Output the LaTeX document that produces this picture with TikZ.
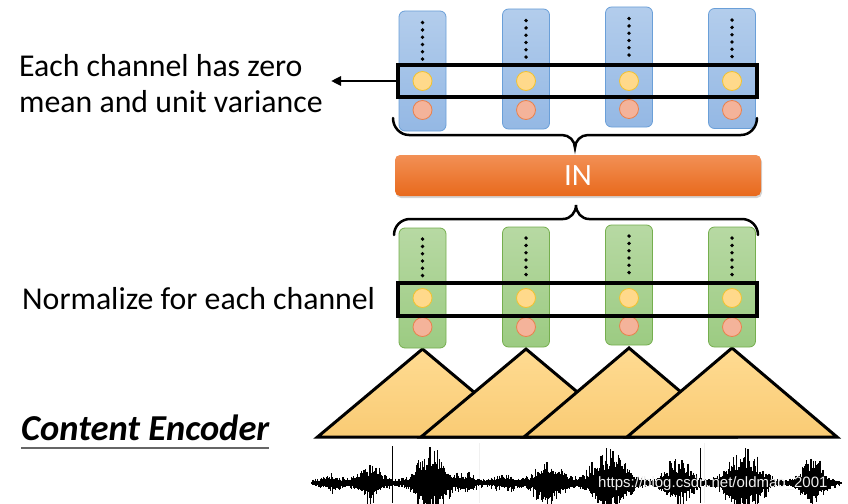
\documentclass[tikz,border=0pt]{standalone}
\usepackage{fontspec}
\setmainfont{Carlito}
\newfontfamily\wmfont{Liberation Sans}
\usetikzlibrary{shadows,arrows.meta}
\definecolor{bluetop}{HTML}{B3CDEC}
\definecolor{bluebot}{HTML}{94B8E4}
\definecolor{blueedge}{HTML}{6A9FD8}
\definecolor{greentop}{HTML}{B7D9A3}
\definecolor{greenbot}{HTML}{9CCB82}
\definecolor{greenedge}{HTML}{75AE4E}
\definecolor{yelfill}{HTML}{FFD98B}
\definecolor{yeledge}{HTML}{F2C230}
\definecolor{redfill}{HTML}{F4B39A}
\definecolor{rededge}{HTML}{E9814D}
\definecolor{intop}{HTML}{F29055}
\definecolor{inbot}{HTML}{E8691C}
\definecolor{tritop}{HTML}{FFDB92}
\definecolor{tribot}{HTML}{F9CB74}
\tikzset{
  bcol/.style={draw=blueedge, line width=0.8pt, rounded corners=6pt, top color=bluetop, bottom color=bluebot, minimum width=47pt, minimum height=120pt, inner sep=0pt},
  gcol/.style={draw=greenedge, line width=0.8pt, rounded corners=6pt, top color=greentop, bottom color=greenbot, minimum width=47pt, minimum height=120pt, inner sep=0pt},
  ycirc/.style={circle, draw=yeledge, fill=yelfill, line width=0.8pt, minimum size=19pt, inner sep=0pt},
  rcirc/.style={circle, draw=rededge, fill=redfill, line width=0.8pt, minimum size=19pt, inner sep=0pt},
  selbox/.style={draw=black, line width=3.5pt, minimum width=359pt, minimum height=32pt, inner sep=0pt},
  brace/.style={draw=black, line width=2.5pt, line cap=round},
  tri/.style={draw=black, line width=3pt, line join=miter, top color=tritop, bottom color=tribot},
  lbl/.style={anchor=base west, inner sep=0pt, font=\fontsize{31.8}{35}\selectfont},
  wave/.style={line width=1.25pt, black},
  gdot/.style={fill=black, circle, minimum size=3.8pt, inner sep=0pt},
  declare function={g(\x,\c,\w)=exp(-min(((\x-\c)/\w)*((\x-\c)/\w),30));}
}
\begin{document}
\begin{tikzpicture}[x=1pt,y=-1pt]
\useasboundingbox (0,0) rectangle (848,503);

% ---------- waveform ----------
\begin{scope}
\clip (0,0) rectangle (848,503);
\draw[gray!12, line width=0.6pt] (479,443) -- (479,503) (704,443) -- (704,503);
\draw[black, line width=1.8pt] (311,483) -- (842,483);
\pgfmathsetseed{11}
\foreach \x in {313,313.6,...,840}{
  \pgfmathsetmacro\env{3.5+8*g(\x,330,12)+20*g(\x,370,15)+40*g(\x,432,18)+9*g(\x,468,9)+7*g(\x,505,14)+22*g(\x,548,17)+40*g(\x,610,20)+27*g(\x,678,15)+40*g(\x,744,20)+30*g(\x,812,13)}
  \pgfmathsetmacro\a{\env*(0.3+0.7*rnd*rnd)}
  \pgfmathsetmacro\b{\env*(0.3+0.7*rnd*rnd)}
  \draw[wave] (\x,483-\a) -- (\x,483+\b);
}
\draw[black, line width=0.9pt] (392,446) -- (392,503) (700,448) -- (700,503);
\end{scope}
\node[anchor=west, inner sep=0pt, text=white!88!gray, font=\wmfont\fontsize{15}{15}\selectfont] (wm) at (598,484) {https://blog.csdn.net/oldmao\_2001};

% ---------- triangles ----------
\draw[tri] (317.5,437) -- (422.5,349) -- (527.5,437) -- cycle;
\draw[tri] (421,437) -- (526,349) -- (631,437) -- cycle;
\draw[tri] (524,437) -- (629,348) -- (734,437) -- cycle;
\draw[tri] (627,437) -- (732,348) -- (837,437) -- cycle;

% ---------- green columns ----------
\node[gcol] (g1) at (422.5,288) {};
\node[gcol] (g2) at (526,287) {};
\node[gcol] (g3) at (629,285) {};
\node[gcol] (g4) at (732,287) {};
\foreach \c in {g1,g2,g3,g4}{
  \foreach \k in {0,...,5}{
    \node[gdot] at ([yshift=-11.5pt-7.3pt*\k]\c.north) {};
  }
}
\node[ycirc] (gy1) at (422.5,298) {};
\node[ycirc] (gy2) at (526,298) {};
\node[ycirc] (gy3) at (629,298) {};
\node[ycirc] (gy4) at (732,298) {};
\node[rcirc] (gr1) at (422.5,327) {};
\node[rcirc] (gr2) at (526,327) {};
\node[rcirc] (gr3) at (629,326) {};
\node[rcirc] (gr4) at (732,327) {};
\node[selbox, minimum height=33pt] (lowbox) at (577.5,299.5) {};

% ---------- blue columns ----------
\node[bcol] (b1) at (422.5,71) {};
\node[bcol] (b2) at (526,69) {};
\node[bcol] (b3) at (629,67) {};
\node[bcol] (b4) at (732,68.5) {};
\foreach \c in {b1,b2,b3,b4}{
  \foreach \k in {0,...,5}{
    \node[gdot] at ([yshift=-12pt-7.3pt*\k]\c.north) {};
  }
}
\node[ycirc] (by1) at (422.5,81) {};
\node[ycirc] (by2) at (526,81) {};
\node[ycirc] (by3) at (629,81) {};
\node[ycirc] (by4) at (732,81) {};
\node[rcirc] (br1) at (422.5,110) {};
\node[rcirc] (br2) at (526,110) {};
\node[rcirc] (br3) at (629,109) {};
\node[rcirc] (br4) at (732,110) {};
\node[selbox] (topbox) at (577.5,81) {};

% ---------- braces ----------
\draw[brace] (393,118) to[out=-90,in=180] (409,135) -- (562,135) to[out=0,in=90] (575,148)
             to[out=90,in=180] (588,135) -- (741,135) to[out=0,in=-90] (757,118);
\draw[brace] (394,235) to[out=90,in=180] (410,219) -- (563,219) to[out=0,in=-90] (576,205)
             to[out=-90,in=180] (589,219) -- (742,219) to[out=0,in=90] (758,235);

% ---------- IN bar ----------
\node[draw=none, rounded corners=5pt, top color=intop, bottom color=inbot,
      minimum width=366pt, minimum height=41pt, inner sep=0pt,
      drop shadow={opacity=0.35, shadow xshift=1pt, shadow yshift=-2pt},
      text=white, font=\fontsize{31}{31}\selectfont] (in) at (578,175.5) {IN};

% ---------- labels ----------
\coordinate (arrowend) at (331,81);
\draw[line width=2.5pt, -{Triangle[length=10pt,width=9pt]}] (topbox.west) -- (arrowend);
\node[lbl] (t1) at (19,77) {Each channel has zero};
\node[lbl] (t2) at (19,112) {mean and unit variance};
\node[lbl] (t3) at (22,309) {Normalize for each channel};
\node[anchor=base west, inner sep=0pt, font=\fontsize{36.5}{40}\selectfont\bfseries\itshape] (t4) at (21,440) {Content Encoder};
\draw[gray!80!black, line width=2pt] ([yshift=-8pt]t4.base west) -- ([yshift=-8pt]t4.base east);
\end{tikzpicture}
\end{document}
